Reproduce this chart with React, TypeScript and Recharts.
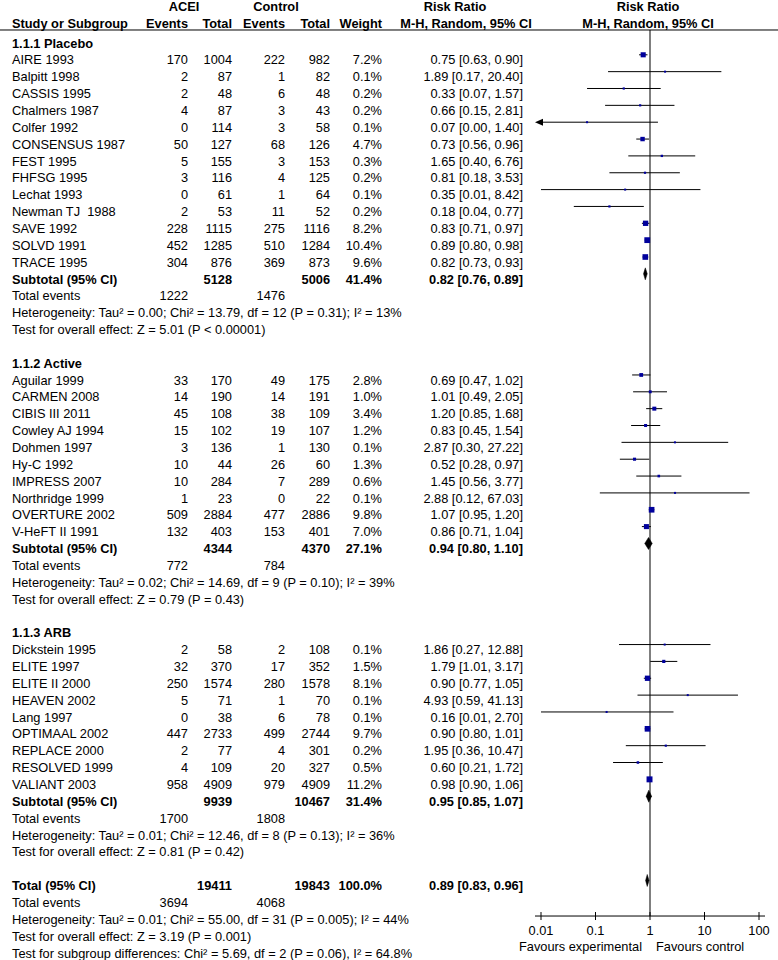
import React from 'react';
import { ComposedChart, XAxis, YAxis, Scatter, ReferenceLine } from 'recharts';

const FONT = 'Arial, "Liberation Sans", Helvetica, sans-serif';
const FS = 12.8;

type Study = { name: string; e1: number; n1: number; e2: number; n2: number; w: number; rr: number; lo: number; hi: number };

const placebo: Study[] = [
  { name: 'AIRE 1993', e1: 170, n1: 1004, e2: 222, n2: 982, w: 7.2, rr: 0.75, lo: 0.63, hi: 0.90 },
  { name: 'Balpitt 1998', e1: 2, n1: 87, e2: 1, n2: 82, w: 0.1, rr: 1.89, lo: 0.17, hi: 20.40 },
  { name: 'CASSIS 1995', e1: 2, n1: 48, e2: 6, n2: 48, w: 0.2, rr: 0.33, lo: 0.07, hi: 1.57 },
  { name: 'Chalmers 1987', e1: 4, n1: 87, e2: 3, n2: 43, w: 0.2, rr: 0.66, lo: 0.15, hi: 2.81 },
  { name: 'Colfer 1992', e1: 0, n1: 114, e2: 3, n2: 58, w: 0.1, rr: 0.07, lo: 0.00, hi: 1.40 },
  { name: 'CONSENSUS 1987', e1: 50, n1: 127, e2: 68, n2: 126, w: 4.7, rr: 0.73, lo: 0.56, hi: 0.96 },
  { name: 'FEST 1995', e1: 5, n1: 155, e2: 3, n2: 153, w: 0.3, rr: 1.65, lo: 0.40, hi: 6.76 },
  { name: 'FHFSG 1995', e1: 3, n1: 116, e2: 4, n2: 125, w: 0.2, rr: 0.81, lo: 0.18, hi: 3.53 },
  { name: 'Lechat 1993', e1: 0, n1: 61, e2: 1, n2: 64, w: 0.1, rr: 0.35, lo: 0.01, hi: 8.42 },
  { name: 'Newman TJ  1988', e1: 2, n1: 53, e2: 11, n2: 52, w: 0.2, rr: 0.18, lo: 0.04, hi: 0.77 },
  { name: 'SAVE 1992', e1: 228, n1: 1115, e2: 275, n2: 1116, w: 8.2, rr: 0.83, lo: 0.71, hi: 0.97 },
  { name: 'SOLVD 1991', e1: 452, n1: 1285, e2: 510, n2: 1284, w: 10.4, rr: 0.89, lo: 0.80, hi: 0.98 },
  { name: 'TRACE 1995', e1: 304, n1: 876, e2: 369, n2: 873, w: 9.6, rr: 0.82, lo: 0.73, hi: 0.93 },
];

const active: Study[] = [
  { name: 'Aguilar 1999', e1: 33, n1: 170, e2: 49, n2: 175, w: 2.8, rr: 0.69, lo: 0.47, hi: 1.02 },
  { name: 'CARMEN 2008', e1: 14, n1: 190, e2: 14, n2: 191, w: 1.0, rr: 1.01, lo: 0.49, hi: 2.05 },
  { name: 'CIBIS III 2011', e1: 45, n1: 108, e2: 38, n2: 109, w: 3.4, rr: 1.20, lo: 0.85, hi: 1.68 },
  { name: 'Cowley AJ 1994', e1: 15, n1: 102, e2: 19, n2: 107, w: 1.2, rr: 0.83, lo: 0.45, hi: 1.54 },
  { name: 'Dohmen 1997', e1: 3, n1: 136, e2: 1, n2: 130, w: 0.1, rr: 2.87, lo: 0.30, hi: 27.22 },
  { name: 'Hy-C 1992', e1: 10, n1: 44, e2: 26, n2: 60, w: 1.3, rr: 0.52, lo: 0.28, hi: 0.97 },
  { name: 'IMPRESS 2007', e1: 10, n1: 284, e2: 7, n2: 289, w: 0.6, rr: 1.45, lo: 0.56, hi: 3.77 },
  { name: 'Northridge 1999', e1: 1, n1: 23, e2: 0, n2: 22, w: 0.1, rr: 2.88, lo: 0.12, hi: 67.03 },
  { name: 'OVERTURE 2002', e1: 509, n1: 2884, e2: 477, n2: 2886, w: 9.8, rr: 1.07, lo: 0.95, hi: 1.20 },
  { name: 'V-HeFT II 1991', e1: 132, n1: 403, e2: 153, n2: 401, w: 7.0, rr: 0.86, lo: 0.71, hi: 1.04 },
];

const arb: Study[] = [
  { name: 'Dickstein 1995', e1: 2, n1: 58, e2: 2, n2: 108, w: 0.1, rr: 1.86, lo: 0.27, hi: 12.88 },
  { name: 'ELITE 1997', e1: 32, n1: 370, e2: 17, n2: 352, w: 1.5, rr: 1.79, lo: 1.01, hi: 3.17 },
  { name: 'ELITE II 2000', e1: 250, n1: 1574, e2: 280, n2: 1578, w: 8.1, rr: 0.90, lo: 0.77, hi: 1.05 },
  { name: 'HEAVEN 2002', e1: 5, n1: 71, e2: 1, n2: 70, w: 0.1, rr: 4.93, lo: 0.59, hi: 41.13 },
  { name: 'Lang 1997', e1: 0, n1: 38, e2: 6, n2: 78, w: 0.1, rr: 0.16, lo: 0.01, hi: 2.70 },
  { name: 'OPTIMAAL 2002', e1: 447, n1: 2733, e2: 499, n2: 2744, w: 9.7, rr: 0.90, lo: 0.80, hi: 1.01 },
  { name: 'REPLACE 2000', e1: 2, n1: 77, e2: 4, n2: 301, w: 0.2, rr: 1.95, lo: 0.36, hi: 10.47 },
  { name: 'RESOLVED 1999', e1: 4, n1: 109, e2: 20, n2: 327, w: 0.5, rr: 0.60, lo: 0.21, hi: 1.72 },
  { name: 'VALIANT 2003', e1: 958, n1: 4909, e2: 979, n2: 4909, w: 11.2, rr: 0.98, lo: 0.90, hi: 1.06 },
];

const subgroupTitles = ['1.1.1 Placebo', '1.1.2 Active', '1.1.3 ARB'];
const subtotalN1 = [5128, 4344, 9939];
const subtotalN2 = [5006, 4370, 10467];
const subtotalWeight = [41.4, 27.1, 31.4];
const subtotalRR = [0.82, 0.94, 0.95];
const subtotalLo = [0.76, 0.80, 0.85];
const subtotalHi = [0.89, 1.10, 1.07];
const subtotalEvents1 = [1222, 772, 1700];
const subtotalEvents2 = [1476, 784, 1808];
const heterogeneity = [
  'Heterogeneity: Tau² = 0.00; Chi² = 13.79, df = 12 (P = 0.31); I² = 13%',
  'Heterogeneity: Tau² = 0.02; Chi² = 14.69, df = 9 (P = 0.10); I² = 39%',
  'Heterogeneity: Tau² = 0.01; Chi² = 12.46, df = 8 (P = 0.13); I² = 36%',
];
const overallEffect = [
  'Test for overall effect: Z = 5.01 (P < 0.00001)',
  'Test for overall effect: Z = 0.79 (P = 0.43)',
  'Test for overall effect: Z = 0.81 (P = 0.42)',
];

const totalN = [19411, 19843];
const totalEvents = [3694, 4068];
const totalWeight = 100.0;
const totalRR = [0.89, 0.83, 0.96];
const totalNotes = [
  'Heterogeneity: Tau² = 0.01; Chi² = 55.00, df = 31 (P = 0.005); I² = 44%',
  'Test for overall effect: Z = 3.19 (P = 0.001)',
  'Test for subgroup differences: Chi² = 5.69, df = 2 (P = 0.06), I² = 64.8%',
];

const tickValues = [0.01, 0.1, 1, 10, 100];
const tickLabels = ['0.01', '0.1', '1', '10', '100'];
const favoursLabels = ['Favours experimental', 'Favours control'];

// ---- layout (row units on the y axis) ----
const X_MIN = 0.01;
const X_MAX = 100;
const Y_DOMAIN: [number, number] = [-2.552, 54.42];
const HEAD1_ROW = -2.196;
const HEAD2_ROW = -1.187;
const RULE_ROW = -0.772;
const AXIS_ROW = 51.81;
const FAVOURS_ROW = 53.59;
const MARK_SHIFT = -0.3;

const COL = { name: 12, e1: 188, n1: 232, e2: 285, n2: 330, w: 382, rr: 523 };

const fmtW = (w: number) => w.toFixed(1) + '%';
const fmtRR = (m: number, l: number, h: number) => `${m.toFixed(2)} [${l.toFixed(2)}, ${h.toFixed(2)}]`;

type TextRowData = {
  x: number; y: number; kind: string; label?: string; bold?: boolean;
  e1?: string; n1?: string; e2?: string; n2?: string; w?: string; rr?: string;
};

const textRows: TextRowData[] = [];
const studyMarks: { x: number; y: number; w: number; lo: number; hi: number }[] = [];
const diamonds: { y: number; m: number; lo: number; hi: number }[] = [];

textRows.push({ x: 1, y: HEAD1_ROW, kind: 'head1' });
textRows.push({ x: 1, y: HEAD2_ROW, kind: 'head2' });
textRows.push({ x: 1, y: RULE_ROW, kind: 'rule' });

let r = 0;
[placebo, active, arb].forEach((g, gi) => {
  textRows.push({ x: 1, y: r, kind: 'row', label: subgroupTitles[gi], bold: true });
  r++;
  g.forEach((s) => {
    textRows.push({
      x: 1, y: r, kind: 'row', label: s.name,
      e1: String(s.e1), n1: String(s.n1), e2: String(s.e2), n2: String(s.n2),
      w: fmtW(s.w), rr: fmtRR(s.rr, s.lo, s.hi),
    });
    studyMarks.push({ x: s.rr, y: r + MARK_SHIFT, w: s.w, lo: s.lo, hi: s.hi });
    r++;
  });
  textRows.push({
    x: 1, y: r, kind: 'row', label: 'Subtotal (95% CI)', bold: true,
    n1: String(subtotalN1[gi]), n2: String(subtotalN2[gi]), w: fmtW(subtotalWeight[gi]),
    rr: fmtRR(subtotalRR[gi], subtotalLo[gi], subtotalHi[gi]),
  });
  diamonds.push({ y: r + MARK_SHIFT, m: subtotalRR[gi], lo: subtotalLo[gi], hi: subtotalHi[gi] });
  r++;
  textRows.push({ x: 1, y: r, kind: 'row', label: 'Total events', e1: String(subtotalEvents1[gi]), e2: String(subtotalEvents2[gi]) });
  r++;
  textRows.push({ x: 1, y: r, kind: 'row', label: heterogeneity[gi] });
  r++;
  textRows.push({ x: 1, y: r, kind: 'row', label: overallEffect[gi] });
  r++;
  r++; // blank line
});
textRows.push({
  x: 1, y: r, kind: 'row', label: 'Total (95% CI)', bold: true,
  n1: String(totalN[0]), n2: String(totalN[1]), w: fmtW(totalWeight),
  rr: fmtRR(totalRR[0], totalRR[1], totalRR[2]),
});
diamonds.push({ y: r + MARK_SHIFT, m: totalRR[0], lo: totalRR[1], hi: totalRR[2] });
r++;
textRows.push({ x: 1, y: r, kind: 'row', label: 'Total events', e1: String(totalEvents[0]), e2: String(totalEvents[1]) });
r++;
totalNotes.forEach((n) => {
  textRows.push({ x: 1, y: r, kind: 'row', label: n });
  r++;
});

const tickPoints = tickValues.map((v, i) => ({ x: v, y: AXIS_ROW, label: tickLabels[i] }));
const favoursPoints = [{ x: 1, y: FAVOURS_ROW }];

const T = (x: number, y: number, s: string, anchor: 'start' | 'middle' | 'end' = 'start', bold = false) => (
  <text
    x={x}
    y={y}
    dy="0.36em"
    textAnchor={anchor}
    fontFamily={FONT}
    fontSize={FS}
    fontWeight={bold ? 'bold' : 'normal'}
    fill="#000"
    style={{ whiteSpace: 'pre' }}
  >
    {s}
  </text>
);

const TextRow = (props: any) => {
  const { cx, cy, payload } = props;
  const p: TextRowData = payload;
  if (p.kind === 'head1') {
    return (
      <g>
        {T(184, cy, 'ACEI', 'middle', true)}
        {T(276, cy, 'Control', 'middle', true)}
        {T(455, cy, 'Risk Ratio', 'middle', true)}
        {T(cx - 2, cy, 'Risk Ratio', 'middle', true)}
      </g>
    );
  }
  if (p.kind === 'head2') {
    return (
      <g>
        {T(COL.name, cy, 'Study or Subgroup', 'start', true)}
        {T(COL.e1, cy, 'Events', 'end', true)}
        {T(COL.n1, cy, 'Total', 'end', true)}
        {T(COL.e2, cy, 'Events', 'end', true)}
        {T(COL.n2, cy, 'Total', 'end', true)}
        {T(COL.w, cy, 'Weight', 'end', true)}
        {T(466, cy, 'M-H, Random, 95% CI', 'middle', true)}
        {T(cx - 2, cy, 'M-H, Random, 95% CI', 'middle', true)}
      </g>
    );
  }
  if (p.kind === 'rule') {
    return <line x1={0} x2={778} y1={cy} y2={cy} stroke="#000" strokeWidth={1} />;
  }
  const b = !!p.bold;
  return (
    <g>
      {p.label != null && T(COL.name, cy, p.label, 'start', b)}
      {p.e1 != null && T(COL.e1, cy, p.e1, 'end', false)}
      {p.n1 != null && T(COL.n1, cy, p.n1, 'end', b)}
      {p.e2 != null && T(COL.e2, cy, p.e2, 'end', false)}
      {p.n2 != null && T(COL.n2, cy, p.n2, 'end', b)}
      {p.w != null && T(COL.w, cy, p.w, 'end', b)}
      {p.rr != null && T(COL.rr, cy, p.rr, 'end', b)}
    </g>
  );
};

const SquareMark = (props: any) => {
  const { cx, cy, payload } = props;
  const s = 1.6 + 1.3 * Math.sqrt(payload.w);
  return <rect x={cx - s / 2} y={cy - s / 2} width={s} height={s} fill="#00009c" />;
};

const TickMark = (props: any) => {
  const { cx, cy, payload } = props;
  return (
    <g>
      <line x1={cx} x2={cx} y1={cy - 4} y2={cy + 4} stroke="#000" strokeWidth={1} />
      {T(cx, cy + 14, payload.label, 'middle', false)}
    </g>
  );
};

const FavoursMark = (props: any) => {
  const { cx, cy } = props;
  return (
    <g>
      {T(cx - 8, cy, favoursLabels[0], 'end', false)}
      {T(cx + 6, cy, favoursLabels[1], 'start', false)}
    </g>
  );
};

const ciShape = (arrowLeft: boolean) => (props: any) => {
  const { x1, y1, x2, y2 } = props;
  return (
    <g>
      <line x1={x1} y1={y1} x2={x2} y2={y2} stroke="#000" strokeWidth={1} />
      {arrowLeft && <polygon points={`${x1 - 6},${y1} ${x1 + 2},${y1 - 3.5} ${x1 + 2},${y1 + 3.5}`} fill="#000" />}
    </g>
  );
};

const diamondShape = (m: number, lo: number, hi: number) => (props: any) => {
  const { x1, y1, x2 } = props;
  const xm = x1 + ((x2 - x1) * (Math.log(m) - Math.log(lo))) / (Math.log(hi) - Math.log(lo));
  const h = 6;
  return <polygon points={`${x1},${y1} ${xm},${y1 - h} ${x2},${y1} ${xm},${y1 + h}`} fill="#000" stroke="#000" strokeWidth={0.5} />;
};

const axisShape = (props: any) => {
  const { x1, y1, x2 } = props;
  return <line x1={x1 - 6} x2={x2 + 6} y1={y1} y2={y1} stroke="#000" strokeWidth={1} />;
};

export default function App() {
  return (
    <div style={{ position: 'absolute', left: 0, top: 0, width: 778, height: 960, background: '#fff' }}>
      <ComposedChart width={778} height={960} margin={{ top: 0, right: 19, bottom: 0, left: 541 }}>
        <XAxis type="number" dataKey="x" scale="log" domain={[X_MIN, X_MAX]} hide />
        <YAxis type="number" dataKey="y" domain={Y_DOMAIN} reversed hide />
        <ReferenceLine
          segment={[{ x: 1, y: RULE_ROW }, { x: 1, y: AXIS_ROW }]}
          stroke="#555"
          strokeWidth={1.5}
          ifOverflow="visible"
        />
        <ReferenceLine
          segment={[{ x: X_MIN, y: AXIS_ROW }, { x: X_MAX, y: AXIS_ROW }]}
          ifOverflow="visible"
          shape={axisShape}
        />
        {studyMarks.map((s, i) => (
          <ReferenceLine
            key={'ci' + i}
            segment={[{ x: Math.max(s.lo, X_MIN), y: s.y }, { x: Math.min(s.hi, X_MAX), y: s.y }]}
            ifOverflow="visible"
            shape={ciShape(s.lo < X_MIN)}
          />
        ))}
        {diamonds.map((d, i) => (
          <ReferenceLine
            key={'dm' + i}
            segment={[{ x: d.lo, y: d.y }, { x: d.hi, y: d.y }]}
            ifOverflow="visible"
            shape={diamondShape(d.m, d.lo, d.hi)}
          />
        ))}
        <Scatter data={textRows} shape={TextRow} isAnimationActive={false} />
        <Scatter data={studyMarks} shape={SquareMark} isAnimationActive={false} />
        <Scatter data={tickPoints} shape={TickMark} isAnimationActive={false} />
        <Scatter data={favoursPoints} shape={FavoursMark} isAnimationActive={false} />
      </ComposedChart>
    </div>
  );
}
